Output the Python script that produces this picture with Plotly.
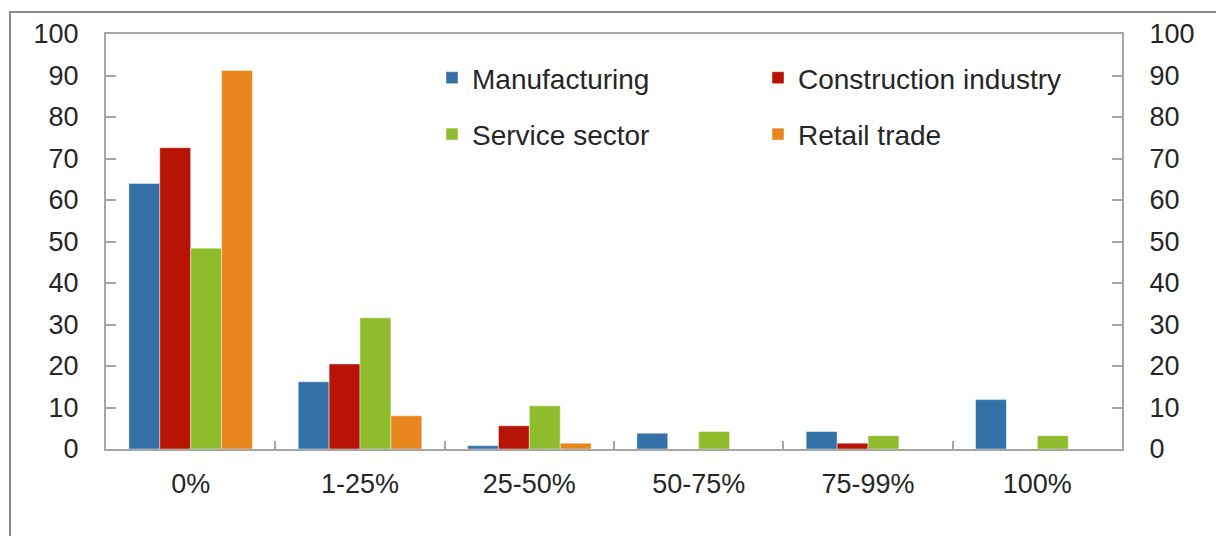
import plotly.graph_objects as go

# Share of firms by category (percent)
categories = ["0%", "1-25%", "25-50%", "50-75%", "75-99%", "100%"]
manufacturing = [64.0, 16.2, 0.8, 3.8, 4.2, 11.9]
construction = [72.6, 20.5, 5.6, 0.0, 1.4, 0.0]
services = [48.4, 31.6, 10.4, 4.2, 3.2, 3.2]
retail = [91.2, 8.0, 1.4, 0.0, 0.0, 0.0]

series = [
    ("Manufacturing", manufacturing, "#3371A8", "legend"),
    ("Construction industry", construction, "#B81405", "legend2"),
    ("Service sector", services, "#8FBC2C", "legend"),
    ("Retail trade", retail, "#E8861E", "legend2"),
]

W, H = 1216, 536
L, R, T, B = 106, 94, 34, 87
pw, ph = W - L - R, H - T - B

FONT = "Liberation Sans, Arial, sans-serif"
TXT = "#262626"
AX = "#a6a6a6"

fig = go.Figure()
for i, (name, vals, color, leg) in enumerate(series):
    fig.add_trace(go.Bar(
        x=categories, y=vals, name=name,
        marker=dict(color=color, line=dict(color="rgba(255,255,255,0.45)", width=1)),
        legend=leg, legendgroup=name,
    ))

# invisible trace to carry the right-hand axis
fig.add_trace(go.Scatter(x=categories, y=[None] * len(categories), yaxis="y2",
                         showlegend=False, hoverinfo="skip"))

yax = dict(range=[0, 100], dtick=10, ticks="inside", ticklen=10, tickwidth=2,
           tickcolor=AX, showline=True, linecolor=AX, linewidth=2,
           showgrid=False, zeroline=False, ticklabelstandoff=20,
           tickfont=dict(family=FONT, size=27, color=TXT), fixedrange=True)

leg_common = dict(font=dict(family=FONT, size=28, color=TXT),
                  bgcolor="rgba(0,0,0,0)", yanchor="top", xanchor="left",
                  tracegroupgap=17, orientation="v")

fig.update_layout(
    width=W, height=H,
    margin=dict(l=L, r=R, t=T, b=B, pad=0),
    paper_bgcolor="white", plot_bgcolor="white",
    barmode="group", bargap=0.27, bargroupgap=0,
    showlegend=True,
    xaxis=dict(type="category", showline=True, linecolor=AX, linewidth=2,
               mirror=True, ticks="inside", tickson="boundaries", ticklen=8,
               tickwidth=2, tickcolor=AX, showgrid=False, zeroline=False,
               ticklabelstandoff=10,
               tickfont=dict(family=FONT, size=27, color=TXT)),
    yaxis=yax,
    yaxis2=dict(yax, overlaying="y", side="right", anchor="x"),
    legend=dict(leg_common, x=(432 - L) / pw, y=(H - B - 53) / ph),
    legend2=dict(leg_common, x=(758 - L) / pw, y=(H - B - 53) / ph),
    shapes=[dict(type="rect", xref="paper", yref="paper",
                 x0=(10 - L) / pw, x1=(W + 20 - L) / pw,
                 y0=-(B + 20) / ph, y1=(H - B - 12) / ph,
                 line=dict(color="#8c8c8c", width=2), layer="below")],
)

fig.write_html("out.html")
